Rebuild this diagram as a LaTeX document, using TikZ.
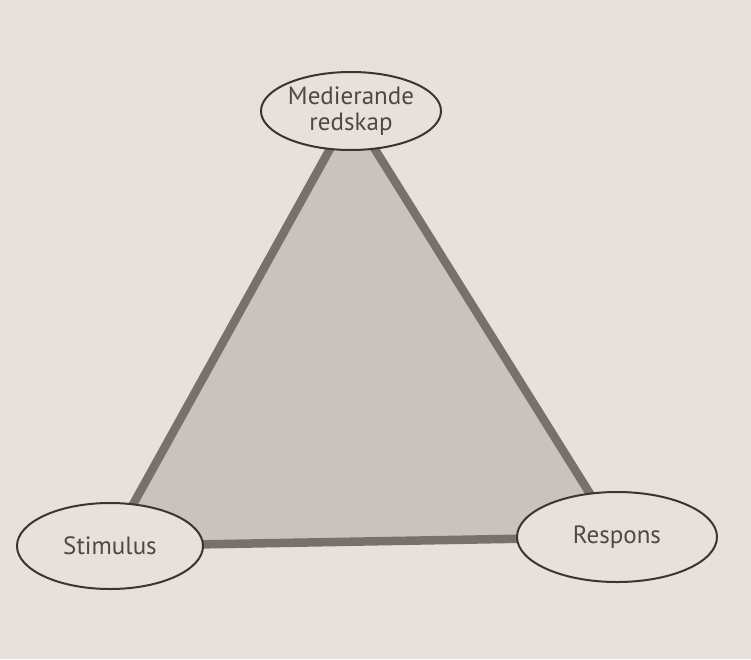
\documentclass[tikz,border=0pt]{standalone}
\usepackage{fontspec}
\setmainfont{PT Sans}
\usetikzlibrary{shapes.geometric,backgrounds}
\definecolor{pagebeige}{HTML}{E7E1DB}
\definecolor{fillgrey}{HTML}{C9C3BD}
\definecolor{edgegrey}{HTML}{77716C}
\definecolor{inkdark}{HTML}{3A3531}

\begin{document}
\begin{tikzpicture}[x=1pt,y=-1pt,
  term/.style={ellipse,draw=inkdark,line width=2pt,fill=pagebeige,
    inner sep=0pt,text=inkdark!90,font=\fontsize{25}{26}\selectfont,align=center}]
  \useasboundingbox (0,0) rectangle (751,659);

  % Ellipses
  \node[term,minimum width=180pt,minimum height=78pt] (tool) at (351,111) {Medierande\\redskap};
  \node[term,minimum width=186pt,minimum height=86pt] (stim) at (110,546) {Stimulus};
  \node[term,minimum width=200pt,minimum height=90pt] (resp) at (617,537) {Respons};

  \begin{pgfonlayer}{background}
    % Page
    \fill[pagebeige] (0,0) rectangle (751,659);
    % Triangle
    \filldraw[fill=fillgrey,draw=edgegrey,line width=8.5pt,line join=round]
      (tool.center) -- (stim.center) -- (resp.center) -- cycle;
  \end{pgfonlayer}
\end{tikzpicture}
\end{document}
